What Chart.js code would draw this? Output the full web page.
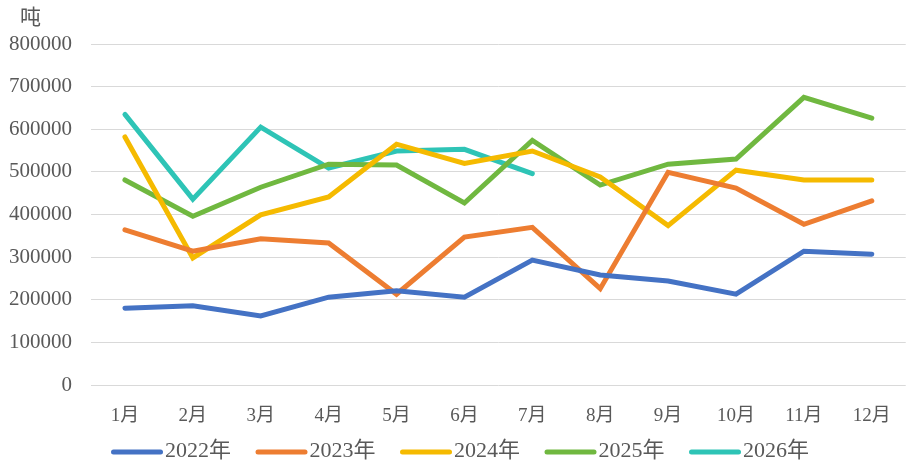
<!DOCTYPE html>
<html>
<head>
<meta charset="utf-8">
<script src="https://cdn.jsdelivr.net/npm/chart.js"></script>
<style>
    body { margin: 0; background: #fff; }
    #wrap { width: 911px; height: 469px; }
</style>
</head>
<body>
<div id="wrap"><canvas id="tonnage-chart"></canvas></div>
<script>
var months = ['1月', '2月', '3月', '4月', '5月', '6月', '7月', '8月', '9月', '10月', '11月', '12月'];
var unitLabel = '吨';

var data2022 = [180000, 186000, 162000, 206000, 221000, 206000, 293000, 258000, 244000, 213000, 314000, 307000];
var data2023 = [364000, 314000, 343000, 333000, 213000, 347000, 370000, 226000, 499000, 462000, 377000, 432000];
var data2024 = [582000, 298000, 399000, 441000, 565000, 520000, 549000, 488000, 374000, 504000, 481000, 481000];
var data2025 = [481000, 396000, 464000, 518000, 516000, 427000, 574000, 469000, 518000, 530000, 675000, 626000];
var data2026 = [635000, 436000, 605000, 509000, 549000, 553000, 496000];

var yearLabels = ['2022年', '2023年', '2024年', '2025年', '2026年'];
var yearColors = ['#4472C4', '#ED7D31', '#F5BA00', '#70B840', '#2EC4B6'];

var fontFamily = "'Times New Roman', 'Liberation Serif', 'Noto Sans CJK SC', serif";
var textColor = '#595959';

function makeDataset(i, values) {
    return {
        label: yearLabels[i],
        data: values,
        borderColor: yearColors[i],
        backgroundColor: yearColors[i],
        borderWidth: 5,
        borderCapStyle: 'round',
        borderJoinStyle: 'miter',
        pointRadius: 0,
        pointHoverRadius: 0,
        tension: 0,
        fill: false
    };
}

// unit label + legend drawn by hand so they sit where the original puts them
var extrasPlugin = {
    id: 'extras',
    afterDraw: function(chart) {
        var ctx = chart.ctx;
        ctx.save();
        ctx.fillStyle = textColor;
        ctx.textBaseline = 'middle';
        ctx.font = '21px ' + fontFamily;
        ctx.fillText(unitLabel, 20, 18);

        ctx.font = '22px ' + fontFamily;
        var x = 111;
        chart.data.datasets.forEach(function(ds) {
            ctx.strokeStyle = ds.borderColor;
            ctx.lineWidth = 5;
            ctx.lineCap = 'round';
            ctx.beginPath();
            ctx.moveTo(x + 2.5, 452);
            ctx.lineTo(x + 49.5, 452);
            ctx.stroke();
            ctx.fillText(ds.label, x + 54, 451);
            x += 54 + ctx.measureText(ds.label).width + 24.5;
        });
        ctx.restore();
    }
};

var config = {
    type: 'line',
    data: {
        labels: months,
        datasets: [
            makeDataset(0, data2022),
            makeDataset(1, data2023),
            makeDataset(2, data2024),
            makeDataset(3, data2025),
            makeDataset(4, data2026)
        ]
    },
    options: {
        responsive: true,
        maintainAspectRatio: false,
        animation: false,
        layout: {
            padding: { top: 44, right: 5, left: 0, bottom: 0 }
        },
        plugins: {
            legend: { display: false },
            tooltip: { enabled: false }
        },
        scales: {
            x: {
                offset: true,
                grid: { display: false, drawTicks: false },
                border: { display: false },
                ticks: {
                    color: textColor,
                    padding: 20,
                    maxRotation: 0,
                    autoSkip: false,
                    font: { family: fontFamily, size: 19 }
                },
                afterFit: function(scale) { scale.height = 84; }
            },
            y: {
                min: 0,
                max: 800000,
                grid: { color: '#d9d9d9', lineWidth: 1, drawTicks: false },
                border: { display: false },
                ticks: {
                    stepSize: 100000,
                    padding: 19,
                    color: textColor,
                    font: { family: fontFamily, size: 21 },
                    callback: function(v) { return String(v); }
                },
                afterFit: function(scale) { scale.width = 91; }
            }
        }
    },
    plugins: [extrasPlugin]
};

var ctx = document.getElementById('tonnage-chart').getContext('2d');
window.tonnageChart = new Chart(ctx, config);
</script>
</body>
</html>
